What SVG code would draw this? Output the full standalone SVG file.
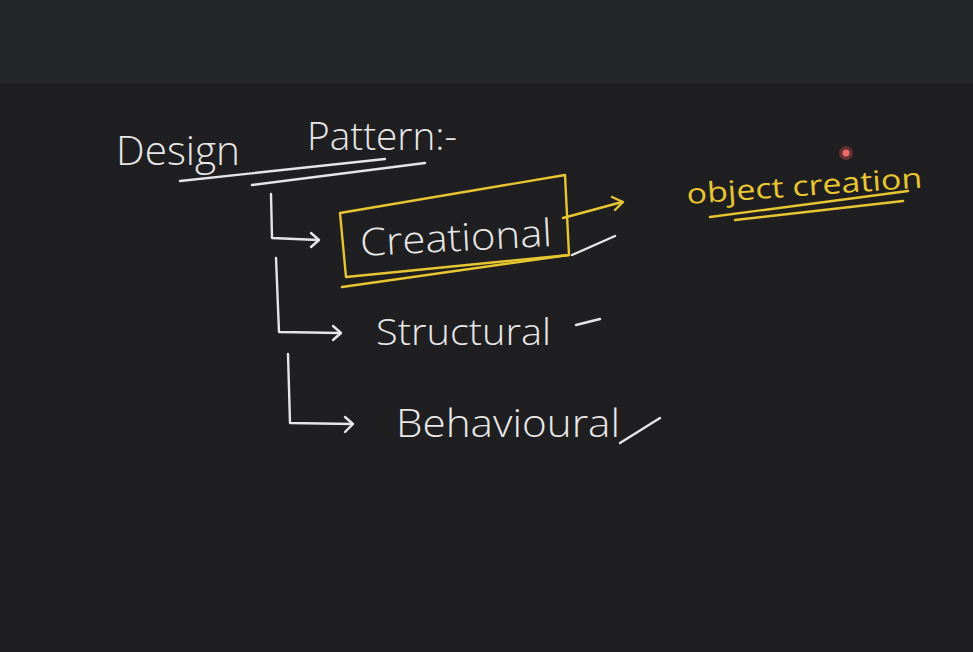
<svg xmlns="http://www.w3.org/2000/svg" width="973" height="652" viewBox="0 0 973 652">
<style>
.w{fill:none;stroke:#e6e6e6;stroke-width:2.4;stroke-linecap:round;stroke-linejoin:round}
.y{fill:none;stroke:#e8c532;stroke-width:2.4;stroke-linecap:round;stroke-linejoin:round}
.tw{fill:#e8e8e8;font-family:"Open Sans","Liberation Sans","DejaVu Sans",sans-serif;font-weight:300}
.ty{fill:#e8c532;font-family:"Open Sans","Liberation Sans","DejaVu Sans",sans-serif;font-weight:400}
</style>
<rect x="0" y="0" width="973" height="652" fill="#1f1f21"/>
<rect x="0" y="0" width="973" height="83" fill="#252628"/>
<g id="title">
<text class="tw" x="116" y="165" font-size="40" textLength="124" lengthAdjust="spacingAndGlyphs">Design</text>
<text class="tw" x="307" y="150" font-size="38" textLength="150" lengthAdjust="spacingAndGlyphs">Pattern:-</text>
<path class="w" d="M180 181 L385 159 M252 185 L425 163"/>
</g>
<g id="connectors">
<path class="w" d="M271 194 L272 238 L318 240"/>
<path class="w" d="M311 233 L319 240 L311 247"/>
<path class="w" d="M276 258 L279 332 L340 333"/>
<path class="w" d="M333 326 L341 333 L333 340"/>
<path class="w" d="M288 354 L290 423 L352 424"/>
<path class="w" d="M345 417 L353 424 L345 432"/>
<path class="y" d="M563 218 L622 202"/>
<path class="y" d="M612 197 L623 202 L615 210"/>
</g>
<g id="creational">
<path class="y" d="M340 213 L565 175 L569 255 L346 277 Z"/>
<path class="y" d="M342 287 L569 255"/>
<text class="tw" x="360" y="251" font-size="38" textLength="192" lengthAdjust="spacingAndGlyphs" transform="rotate(-3 456 240)">Creational</text>
<path class="w" d="M572 255 L615 236"/>
</g>
<g id="structural">
<text class="tw" x="376" y="345" font-size="36" textLength="175" lengthAdjust="spacingAndGlyphs">Structural</text>
<path class="w" d="M576 325 L600 319"/>
</g>
<g id="behavioural">
<text class="tw" x="396" y="437" font-size="38" textLength="224" lengthAdjust="spacingAndGlyphs">Behavioural</text>
<path class="w" d="M620 443 L660 418"/>
</g>
<g id="object-creation">
<text class="ty" x="686" y="196" font-size="28" textLength="236" lengthAdjust="spacingAndGlyphs" transform="rotate(-4 800 182)">object  creation</text>
<path class="y" d="M710 217 L908 191 M735 220 L903 201"/>
<circle cx="846" cy="153" r="7" fill="#e05050" opacity="0.35"/>
<circle cx="846" cy="153" r="3.5" fill="#f06a6a"/>
</g>
</svg>
